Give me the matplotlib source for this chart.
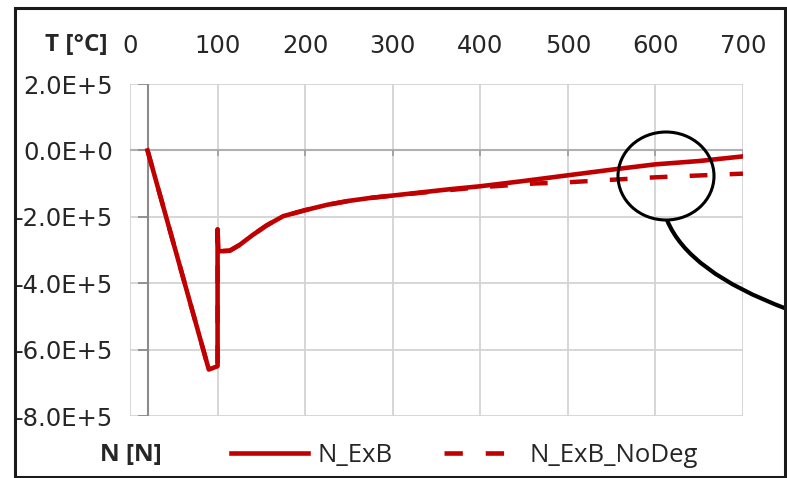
import numpy as np
import matplotlib
matplotlib.use('Agg')
import matplotlib.pyplot as plt
from matplotlib.patches import Ellipse, Rectangle, PathPatch
from matplotlib.path import Path
from matplotlib.lines import Line2D

plt.rcParams['font.family'] = ['Open Sans', 'DejaVu Sans']

# temperature [°C] and axial force N [N]
t_exb = [20, 90, 100, 100, 101, 114, 125, 140, 156, 175, 200, 225, 250, 275, 300, 365, 400, 450, 500,
         550, 600, 650, 700]
n_exb = [0, -6.6e5, -6.5e5, -2.38e5, -3.04e5, -3.02e5, -2.85e5, -2.55e5, -2.26e5, -1.98e5, -1.8e5,
         -1.64e5, -1.52e5, -1.43e5, -1.36e5, -1.17e5, -1.08e5, -0.92e5, -0.75e5, -0.58e5, -0.42e5,
         -0.32e5, -0.18e5]
t_nodeg = [20, 90, 100, 100, 101, 114, 125, 140, 156, 175, 200, 225, 250, 275, 300, 350, 400, 460, 500,
           600, 700]
n_nodeg = [0, -6.6e5, -6.5e5, -2.38e5, -3.04e5, -3.02e5, -2.85e5, -2.55e5, -2.26e5, -1.98e5, -1.8e5,
           -1.64e5, -1.52e5, -1.43e5, -1.36e5, -1.23e5, -1.11e5, -1.0e5, -0.96e5, -0.81e5, -0.7e5]

xticks = np.arange(0, 701, 100)
yticks = np.arange(-8e5, 2.01e5, 2e5)
ylabels = ['-8.0E+5', '-6.0E+5', '-4.0E+5', '-2.0E+5', '0.0E+0', '2.0E+5']

red = '#c00000'
tick_font = dict(family='DejaVu Sans', size=17.5)

fig = plt.figure(figsize=(7.87, 4.78), dpi=100)
ax = fig.add_axes([130/787, 1-416/478, 613/787, 332/478])

ax.plot(t_nodeg, n_nodeg, color=red, lw=3.2, ls=(0, (4, 5)), label='N_ExB_NoDeg', zorder=3)
ax.plot(t_exb, n_exb, color=red, lw=3.3, label='N_ExB', solid_joinstyle='round', zorder=4)

ax.set_xlim(0, 700)
ax.set_ylim(-8e5, 2e5)
ax.set_xticks(xticks)
ax.set_yticks(yticks)
ax.set_xticklabels([str(v) for v in xticks], fontdict=tick_font)
ax.set_yticklabels(ylabels, fontdict=tick_font)
ax.xaxis.tick_top()
ax.tick_params(axis='x', length=0, pad=19, colors='#262626')
ax.tick_params(axis='y', length=0, pad=12, colors='#262626')
ax.grid(True, color='#d3d3d3', lw=1.3)
for s in ax.spines.values():
    s.set_visible(False)
ax.set_axisbelow(True)

# excel-like axes crossing at T=20 and N=0
ax.axvline(20, color='#8c8c8c', lw=1.5, zorder=2)
ax.axhline(0, color='#b0b0b0', lw=1.5, zorder=2)
ax.hlines(yticks, 9, 20, color='#8c8c8c', lw=1.3, zorder=2)
ax.vlines(xticks[1:], -0.18e5, 0, color='#a0a0a0', lw=1.3, zorder=2)

fig.text(45/787, 1-45/478, 'T [°C]', fontsize=17.5, fontweight='bold', va='center', ha='left', color='#262626')
fig.text(100/787, 1-455/478, 'N [N]', fontsize=17.5, fontweight='bold', va='center', ha='left', color='#262626')

h = [Line2D([], [], color=red, lw=3.3), Line2D([], [], color=red, lw=3.3, ls=(0, (4, 5)))]
fig.legend(h, ['N_ExB', 'N_ExB_NoDeg'], loc='center left', bbox_to_anchor=(231/787, 1-455/478),
           ncol=2, frameon=False, fontsize=18.5, handlelength=3.0, handletextpad=0.35,
           columnspacing=2.0, labelcolor='#262626', borderaxespad=0, borderpad=0)

# zoom circle and leader
fig.patches.append(Ellipse((666/787, 1-176/478), 96/787, 88/478, transform=fig.transFigure,
                           fill=False, ec='black', lw=2.2, zorder=10))
verts = [(667/787, 1-220/478), (688/787, 1-272/478), (787/787, 1-309/478)]
fig.patches.append(PathPatch(Path(verts, [Path.MOVETO, Path.CURVE3, Path.CURVE3]),
                             transform=fig.transFigure, fill=False, ec='black', lw=3.0, zorder=10))
# outer frame
fig.patches.append(Rectangle((15/787, 1-477/478), 770/787, 469/478, transform=fig.transFigure,
                             fill=False, ec='#1a1a1a', lw=2.2, zorder=10))

fig.savefig('out.png', dpi=100)
